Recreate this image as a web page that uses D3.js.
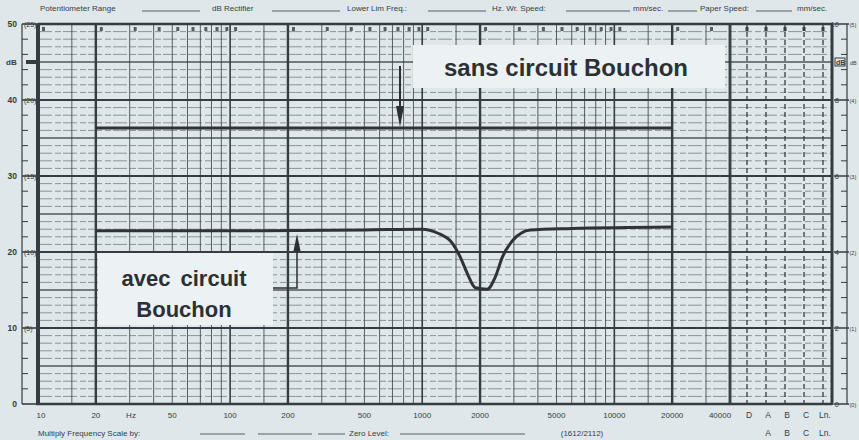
<!DOCTYPE html>
<html><head><meta charset="utf-8">
<script src="https://cdn.jsdelivr.net/npm/d3@7"></script>
<style>
html,body{margin:0;padding:0;background:#dfe7ea;}
svg{display:block;font-family:"Liberation Sans",Arial,sans-serif;}
</style></head>
<body>
<svg id="chart" width="859" height="440"></svg>
<script>
// ---- data ----
const freqTickValues = [10, 20, 50, 100, 200, 500, 1000, 2000, 5000, 10000, 20000, 40000];
const freqTickLabels = ["10", "20", "50", "100", "200", "500", "1000", "2000", "5000", "10000", "20000", "40000"];
const detectorLabels = ["D", "A", "B", "C", "Ln"];
const dbTicks = [0, 10, 20, 30, 40, 50];
const leftInnerLabels = ["", "(5)", "(10)", "(15)", "(20)", "(25)"];
const rightOuterLabels = ["0", "2", "4", "6", "8", "10"];
const rightInnerLabels = ["(0)", "(1)", "(2)", "(3)", "(4)", "(5)"];
const gridMultipliers = [1, 1.5, 2, 3, 4, 5, 6, 7, 8, 9];
const gridDecades = [10, 100, 1000, 10000];

// "sans circuit Bouchon" response (Hz, dB)
const sansFreq = [20, 100, 500, 1000, 5000, 20000];
const sansDb   = [36.3, 36.3, 36.3, 36.3, 36.3, 36.3];
// "avec circuit Bouchon" response (Hz, dB)
const avecFreq = [20, 100, 500, 1000, 1200, 1430, 1580, 1715, 1890, 2180, 2400, 2610, 2980, 3650, 6000, 20000];
const avecDb   = [22.8, 22.8, 22.9, 23.0, 22.5, 21.2, 19.3, 17.2, 15.3, 15.1, 16.7, 19.3, 21.6, 22.9, 23.1, 23.3];

// ---- layout ----
const svg = d3.select("#chart");
const W = 859, H = 440;
const bg = "#dfe7ea", ink = "#363d42", boxFill = "#ecf1f3";
const x = d3.scaleLog().domain([10, 40000]).range([38, 730]);
const y = d3.scaleLinear().domain([0, 50]).range([404, 24]);
const xd = d3.scalePoint().domain(detectorLabels).range([747, 823]);
const rightEdge = 832;

svg.append("rect").attr("width", W).attr("height", H).attr("fill", bg);

const gGrid = svg.append("g");
const dbAll = d3.range(0, 51);
gGrid.selectAll("line.h").data(dbAll).join("line")
  .attr("x1", x(10)).attr("x2", rightEdge)
  .attr("y1", d => y(d)).attr("y2", d => y(d))
  .attr("stroke", ink)
  .attr("stroke-opacity", d => d % 10 === 0 ? 1 : (d % 5 === 0 ? 0.85 : 0.55))
  .attr("stroke-width", d => d % 10 === 0 ? 2.2 : (d % 5 === 0 ? 1.4 : 0.9))
  .attr("stroke-dasharray", d => d % 5 === 0 ? null : "14,3,6,2");

const vFreqs = [];
gridDecades.forEach(dec => gridMultipliers.forEach(m => { if (dec * m <= 40000) vFreqs.push({f: dec * m, m}); }));
vFreqs.push({f: 40000, m: 4});
gGrid.selectAll("line.v").data(vFreqs).join("line")
  .attr("x1", d => x(d.f)).attr("x2", d => x(d.f))
  .attr("y1", y(50)).attr("y2", y(0))
  .attr("stroke", ink)
  .attr("stroke-opacity", d => (d.m === 2 || d.m === 1) ? 1 : 0.8)
  .attr("stroke-width", d => d.f === 10 ? 4 : d.f === 40000 ? 2.6 : d.m === 2 ? 2.4 : d.m === 1 ? 1.6 : 1);

gGrid.selectAll("line.det").data(detectorLabels).join("line")
  .attr("x1", d => xd(d)).attr("x2", d => xd(d))
  .attr("y1", y(50)).attr("y2", y(0))
  .attr("stroke", ink).attr("stroke-width", 1.3)
  .attr("stroke-dasharray", "5,3");
gGrid.append("line").attr("x1", rightEdge).attr("x2", rightEdge)
  .attr("y1", y(50) - 1).attr("y2", y(0) + 1).attr("stroke", ink).attr("stroke-width", 3);
gGrid.append("line").attr("x1", x(10)).attr("x2", rightEdge)
  .attr("y1", y(50)).attr("y2", y(50)).attr("stroke", ink).attr("stroke-width", 2.4);
gGrid.append("line").attr("x1", x(10) - 2).attr("x2", rightEdge)
  .attr("y1", y(0)).attr("y2", y(0)).attr("stroke", ink).attr("stroke-width", 2.4);

gGrid.selectAll("rect.mk").data(vFreqs.filter(d => d.f < 40000 && d.m !== 1.5)).join("rect")
  .attr("x", d => x(d.f) + 4).attr("y", y(50) + 3).attr("width", 3).attr("height", 4)
  .attr("fill", ink).attr("opacity", 0.8);
gGrid.selectAll("rect.mk2").data(detectorLabels).join("rect")
  .attr("x", d => xd(d) - 1.5).attr("y", y(50) + 3).attr("width", 3).attr("height", 4)
  .attr("fill", ink);

// left scale
const gLeft = svg.append("g");
gLeft.append("line").attr("x1", 22).attr("x2", 22).attr("y1", y(50)).attr("y2", y(0))
  .attr("stroke", ink).attr("stroke-width", 1.2);
gLeft.selectAll("line.lt").data(d3.range(0, 51, 2)).join("line")
  .attr("x1", 22).attr("x2", d => d % 10 === 0 ? 38 : 28)
  .attr("y1", d => y(d)).attr("y2", d => y(d))
  .attr("stroke", ink).attr("stroke-width", d => d % 10 === 0 ? 1.6 : 1);
gLeft.selectAll("text.lo").data(dbTicks).join("text")
  .attr("x", 17).attr("y", d => y(d) + 3).attr("text-anchor", "end")
  .attr("font-size", 8.5).attr("font-weight", "bold").attr("fill", ink)
  .text(d => d);
gLeft.selectAll("text.li").data(dbTicks).join("text")
  .attr("x", 24).attr("y", d => y(d) + 3)
  .attr("font-size", 7).attr("fill", ink)
  .text((d, i) => leftInnerLabels[i]);
gLeft.append("text").attr("x", 6).attr("y", y(45) + 3).attr("font-size", 8).attr("font-weight", "bold").attr("fill", ink).text("dB");
gLeft.append("rect").attr("x", 26).attr("y", y(45) - 2).attr("width", 10).attr("height", 4).attr("fill", ink);

// right scale
const gRight = svg.append("g");
gRight.append("line").attr("x1", 847).attr("x2", 847).attr("y1", y(50)).attr("y2", y(0))
  .attr("stroke", ink).attr("stroke-width", 1.2);
gRight.selectAll("line.rt").data(d3.range(0, 51, 2)).join("line")
  .attr("x1", d => d % 10 === 0 ? 834 : 841).attr("x2", d => d % 10 === 0 ? 849 : 847)
  .attr("y1", d => y(d)).attr("y2", d => y(d))
  .attr("stroke", ink).attr("stroke-width", d => d % 10 === 0 ? 1.5 : 1);
gRight.selectAll("text.ro").data(dbTicks).join("text")
  .attr("x", 839).attr("y", d => y(d) + 3).attr("text-anchor", "end")
  .attr("font-size", 7.5).attr("fill", ink)
  .text((d, i) => rightOuterLabels[i]);
gRight.selectAll("text.ri").data(dbTicks).join("text")
  .attr("x", 849.5).attr("y", d => y(d) + 2.5)
  .attr("font-size", 5.5).attr("fill", ink)
  .text((d, i) => rightInnerLabels[i]);
gRight.append("rect").attr("x", 835).attr("y", y(45) - 4).attr("width", 10).attr("height", 8).attr("fill", "none").attr("stroke", ink);
gRight.append("text").attr("x", 836).attr("y", y(45) + 3).attr("font-size", 7).attr("font-weight", "bold").attr("fill", ink).text("dB");
gRight.append("text").attr("x", 850).attr("y", y(45) + 2.5).attr("font-size", 5.5).attr("fill", ink).text("dB");

// curves
const lineGen = d3.line().x(d => x(d[0])).y(d => y(d[1])).curve(d3.curveMonotoneX);
svg.append("path").datum(sansFreq.map((f, i) => [f, sansDb[i]]))
  .attr("d", lineGen).attr("fill", "none").attr("stroke", "#2e3337").attr("stroke-width", 3);
svg.append("path").datum(avecFreq.map((f, i) => [f, avecDb[i]]))
  .attr("d", lineGen).attr("fill", "none").attr("stroke", "#2e3337").attr("stroke-width", 3);

// labels with boxes
const gAnn = svg.append("g");
gAnn.append("rect").attr("x", 413).attr("y", 45).attr("width", 312).attr("height", 43).attr("fill", boxFill);
gAnn.append("text").attr("x", 566).attr("y", 76).attr("text-anchor", "middle")
  .attr("font-size", 24).attr("font-weight", "bold").attr("fill", "#2b3034")
  .text("sans circuit Bouchon");
gAnn.append("line").attr("x1", 400).attr("x2", 400).attr("y1", 66).attr("y2", 110)
  .attr("stroke", "#2b3034").attr("stroke-width", 2);
gAnn.append("polygon").attr("points", "396,106 404,106 400,127").attr("fill", "#2b3034");

gAnn.append("rect").attr("x", 98).attr("y", 253).attr("width", 175).attr("height", 72).attr("fill", boxFill);
gAnn.append("text").attr("x", 184).attr("y", 286).attr("text-anchor", "middle")
  .attr("font-size", 22).attr("font-weight", "bold").attr("fill", "#2b3034")
  .attr("word-spacing", 4)
  .text("avec circuit");
gAnn.append("text").attr("x", 184).attr("y", 317).attr("text-anchor", "middle")
  .attr("font-size", 22).attr("font-weight", "bold").attr("fill", "#2b3034")
  .text("Bouchon");
gAnn.append("path").attr("d", "M273,288 L297,288 L297,246").attr("fill", "none")
  .attr("stroke", "#2b3034").attr("stroke-width", 1.5);
gAnn.append("polygon").attr("points", "293.5,251 300.5,251 297,234").attr("fill", "#2b3034");

// bottom frequency labels
const gBot = svg.append("g").attr("font-size", 8).attr("fill", ink);
gBot.selectAll("text.f").data(freqTickValues).join("text")
  .attr("x", (d) => d === 10 ? x(d) + 3 : d === 40000 ? x(d) - 10 : x(d))
  .attr("y", 418).attr("text-anchor", "middle")
  .text((d, i) => freqTickLabels[i]);
gBot.append("text").attr("x", 131).attr("y", 418).attr("text-anchor", "middle").text("Hz");
gBot.selectAll("text.d").data(detectorLabels).join("text")
  .attr("x", d => xd(d) + 2).attr("y", 418).attr("text-anchor", "middle").attr("font-size", 8.5)
  .text(d => d === "Ln" ? "Ln." : d);
gBot.selectAll("text.d2").data(detectorLabels.slice(1)).join("text")
  .attr("x", d => xd(d) + 2).attr("y", 436).attr("text-anchor", "middle").attr("font-size", 8.5)
  .text(d => d === "Ln" ? "Ln." : d);
gBot.append("text").attr("x", 38).attr("y", 436).text("Multiply Frequency Scale by:");
gBot.append("text").attr("x", 349).attr("y", 436).text("Zero Level:");
gBot.append("text").attr("x", 582).attr("y", 436).attr("text-anchor", "middle").text("(1612/2112)");
[[200, 245], [258, 312], [318, 345], [400, 525]].forEach(s =>
  gBot.append("line").attr("x1", s[0]).attr("x2", s[1]).attr("y1", 434).attr("y2", 434).attr("stroke", ink).attr("stroke-width", 0.8));

// header
const gHead = svg.append("g").attr("font-size", 8).attr("fill", ink);
[["Potentiometer Range", 40], ["dB Rectifier", 212], ["Lower Lim Freq.:", 347], ["Hz. Wr. Speed:", 492],
 ["mm/sec.", 633], ["Paper Speed:", 700], ["mm/sec.", 797]].forEach(t =>
  gHead.append("text").attr("x", t[1]).attr("y", 11).text(t[0]));
[[142, 200], [272, 340], [428, 486], [566, 630], [668, 697], [756, 792]].forEach(s =>
  gHead.append("line").attr("x1", s[0]).attr("x2", s[1]).attr("y1", 11).attr("y2", 11).attr("stroke", ink).attr("stroke-width", 0.8));
</script>
</body></html>
